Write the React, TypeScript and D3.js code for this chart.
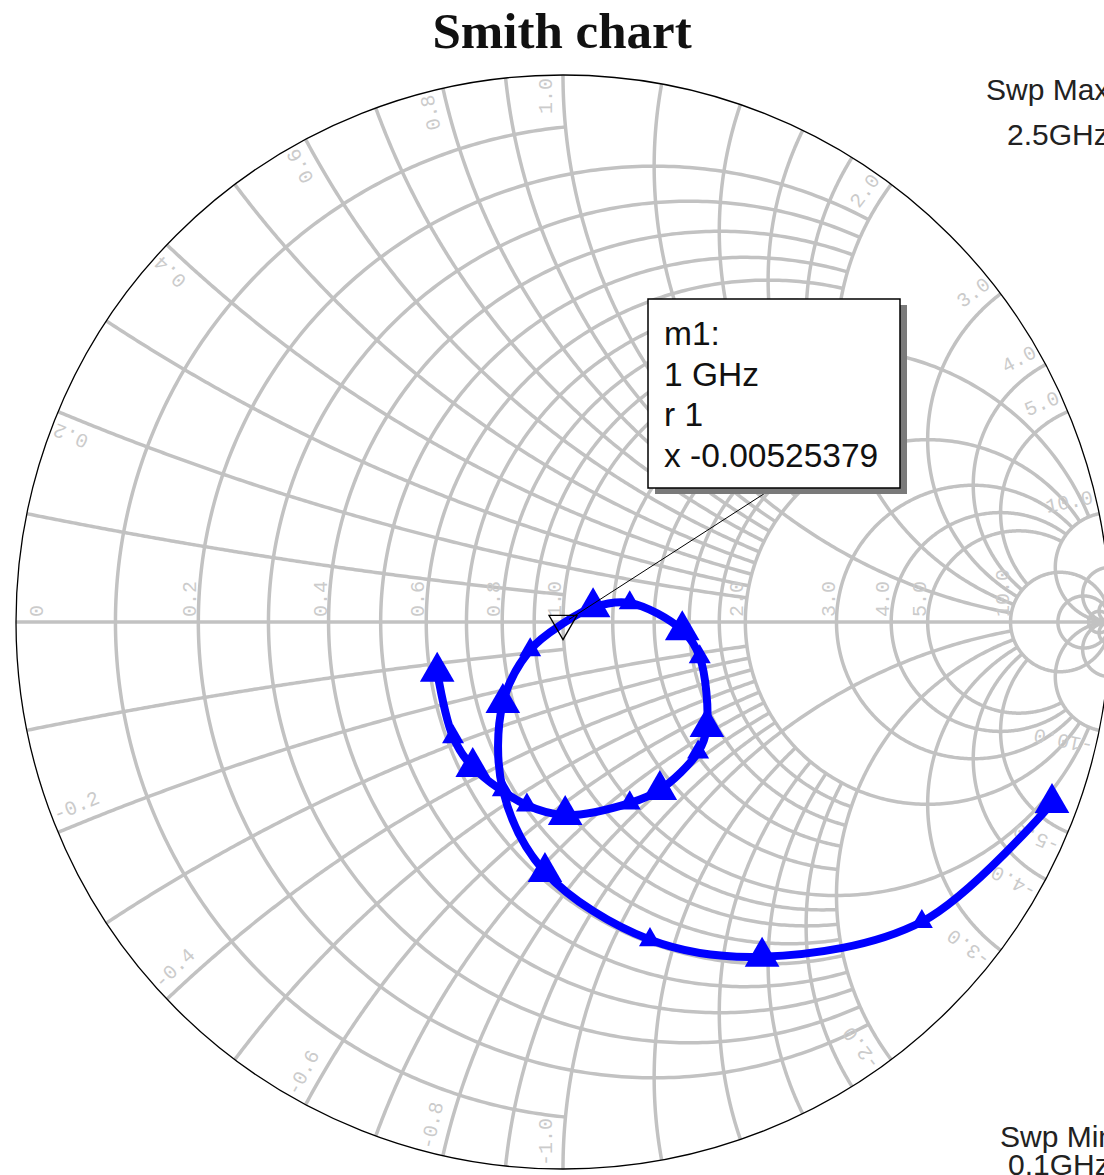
import React from 'react';
import * as d3 from 'd3';

const WIDTH = 1104;
const HEIGHT = 1175;
const CENTER_X = 563;
const CENTER_Y = 622;
const RADIUS = 547;

const titleText = 'Smith chart';

// Grid values shared by resistance circles and reactance arcs
const gridValues = [0.1, 0.2, 0.3, 0.4, 0.5, 0.6, 0.7, 0.8, 0.9, 1, 1.2, 1.4, 1.6, 1.8, 2, 3, 4, 5, 10, 20, 50];
// |x| where each resistance circle stops
const rCircleXLimit = [1, 2, 2, 2, 2, 2, 2, 2, 2, 10, 2, 2, 2, 2, 10, 10, 10, 10, Infinity, Infinity, Infinity];
// r where each reactance arc stops
const xArcRLimit = [1, 2, 2, 2, 2, 2, 2, 2, 2, 10, 2, 2, 2, 2, 10, 10, 10, 10, Infinity, Infinity, Infinity];

const rLabelValues = [0, 0.2, 0.4, 0.6, 0.8, 1, 2, 3, 4, 5, 10];
const xLabelValues = [0.2, 0.4, 0.6, 0.8, 1, 2, 3, 4, 5, 10];

// Swept reflection coefficient
const sweepGHz = [0.10, 0.22, 0.34, 0.46, 0.58, 0.70, 0.82, 0.94, 1.06, 1.18, 1.30, 1.42, 1.54, 1.66, 1.78, 1.90, 2.02, 2.14, 2.26, 2.38, 2.50];
const gammaRe = [0.894, 0.656, 0.364, 0.159, -0.033, -0.110, -0.110, -0.060, 0.055, 0.122, 0.218, 0.250, 0.263, 0.247, 0.177, 0.122, 0.004, -0.066, -0.165, -0.201, -0.230];
const gammaIm = [-0.331, -0.548, -0.612, -0.581, -0.457, -0.307, -0.148, -0.051, 0.027, 0.035, -0.015, -0.064, -0.192, -0.238, -0.307, -0.331, -0.353, -0.335, -0.265, -0.210, -0.091];
const symbolKind = ['L', 'S', 'L', 'S', 'L', 'S', 'L', 'S', 'L', 'S', 'L', 'S', 'L', 'S', 'L', 'S', 'L', 'S', 'L', 'S', 'L'];

// Marker m1
const markerName = 'm1:';
const markerGHz = 1;
const markerR = 1;
const markerX = -0.00525379;

const sweepMaxText = ['Swp Max', '2.5GHz'];
const sweepMinText = ['Swp Min', '0.1GHz'];

const GRID_COLOR = '#c2c2c2';
const LABEL_COLOR = '#cbcbcb';
const TRACE_COLOR = '#0000ff';

type Pt = [number, number];

// normalized impedance -> reflection coefficient
function gamma(r: number, x: number): Pt {
  const den = (r + 1) * (r + 1) + x * x;
  return [(r * r - 1 + x * x) / den, (2 * x) / den];
}

function rCirclePoints(r: number, xMax: number): Pt[] {
  const c = r / (1 + r);
  const rho = 1 / (1 + r);
  let phi0 = 0;
  if (isFinite(xMax)) {
    const g = gamma(r, xMax);
    phi0 = Math.atan2(g[1], g[0] - c);
  }
  const n = 360;
  return d3.range(n + 1).map((i) => {
    const phi = phi0 + ((2 * Math.PI - 2 * phi0) * i) / n;
    return [c + rho * Math.cos(phi), rho * Math.sin(phi)] as Pt;
  });
}

// angle around the arc centre, measured so the inside part runs from below -PI up to -PI/2
function arcAngle(a: number): number {
  return a > -Math.PI / 2 + 1e-9 ? a - 2 * Math.PI : a;
}

function xArcPoints(x: number, rMax: number): Pt[] {
  const cy = 1 / x;
  const rho = 1 / x;
  const g0 = gamma(0, x);
  const a0 = arcAngle(Math.atan2(g0[1] - cy, g0[0] - 1));
  let a1 = -Math.PI / 2;
  if (isFinite(rMax)) {
    const g1 = gamma(rMax, x);
    a1 = arcAngle(Math.atan2(g1[1] - cy, g1[0] - 1));
  }
  const n = 240;
  return d3.range(n + 1).map((i) => {
    const a = a0 + ((a1 - a0) * i) / n;
    return [1 + rho * Math.cos(a), cy + rho * Math.sin(a)] as Pt;
  });
}

export default function App() {
  const sx = d3.scaleLinear().domain([-1, 1]).range([CENTER_X - RADIUS, CENTER_X + RADIUS]);
  const sy = d3.scaleLinear().domain([-1, 1]).range([CENTER_Y + RADIUS, CENTER_Y - RADIUS]);
  const gridLine = d3.line<Pt>().x((d) => sx(d[0])).y((d) => sy(d[1]));

  const gridPaths: string[] = [];
  gridValues.forEach((v, i) => {
    gridPaths.push(gridLine(rCirclePoints(v, rCircleXLimit[i])) as string);
    const arc = xArcPoints(v, xArcRLimit[i]);
    gridPaths.push(gridLine(arc) as string);
    gridPaths.push(gridLine(arc.map((p) => [p[0], -p[1]] as Pt)) as string);
  });

  const rad = sx(1) - sx(0);

  // r labels along the real axis
  const rLabels = rLabelValues.map((v) => {
    const gx = (v - 1) / (v + 1);
    const ax = v === 0 ? sx(gx) + 27 : sx(gx) - 2;
    const ay = sy(0) - 5;
    return { text: v === 0 ? '0' : v.toFixed(1), x: ax, y: ay, rot: -90, anchor: 'start' };
  });

  // x labels just inside the outer circle
  const k = (rad - 3) / rad;
  const off = 11;
  const xLabels: { text: string; x: number; y: number; rot: number; anchor: string }[] = [];
  xLabelValues.forEach((v) => {
    const g = gamma(0, v);
    const th = Math.atan2(g[1], g[0]);
    const deg = (th * 180) / Math.PI;
    const px = sx(Math.cos(th) * k);
    const pyUp = sy(Math.sin(th) * k);
    const pyDn = sy(-Math.sin(th) * k);
    xLabels.push({
      text: v.toFixed(1),
      x: px - off * Math.sin(th),
      y: pyUp - off * Math.cos(th),
      rot: -deg,
      anchor: 'end',
    });
    xLabels.push({
      text: '-' + v.toFixed(1),
      x: px - off * Math.sin(th),
      y: pyDn + off * Math.cos(th),
      rot: deg - 180,
      anchor: 'start',
    });
  });

  // trace including the marked point
  const mGamma = gamma(markerR, markerX);
  const tracePts = sweepGHz
    .map((f, i) => ({ f, re: gammaRe[i], im: gammaIm[i] }))
    .concat([{ f: markerGHz, re: mGamma[0], im: mGamma[1] }])
    .sort((a, b) => a.f - b.f);
  const traceLine = d3
    .line<{ f: number; re: number; im: number }>()
    .x((d) => sx(d.re))
    .y((d) => sy(d.im))
    .curve(d3.curveCatmullRom.alpha(0.5));

  const bigTri = d3.symbol().type(d3.symbolTriangle).size(520)() as string;
  const smallTri = d3.symbol().type(d3.symbolTriangle).size(210)() as string;
  const markerTri = d3.symbol().type(d3.symbolTriangle).size(340)() as string;

  const mx = sx(mGamma[0]);
  const my = sy(mGamma[1]);

  const box = { x: 648, y: 299, w: 252, h: 189 };
  const boxLines = [markerName, `${markerGHz} GHz`, `r ${markerR}`, `x ${markerX}`];

  return (
    <svg
      width={WIDTH}
      height={HEIGHT}
      style={{ position: 'absolute', left: 0, top: 0, background: '#fff' }}
    >
      <rect x={0} y={0} width={WIDTH} height={HEIGHT} fill="#fff" />
      <text
        x={562}
        y={48}
        textAnchor="middle"
        fontFamily="'Liberation Serif', 'Times New Roman', serif"
        fontWeight="bold"
        fontSize={51}
        fill="#111"
      >
        {titleText}
      </text>

      <g fill="none" stroke={GRID_COLOR} strokeWidth={3.5}>
        {gridPaths.map((d, i) => (
          <path key={i} d={d} />
        ))}
        <line x1={sx(-1)} y1={sy(0)} x2={sx(1)} y2={sy(0)} />
      </g>

      <circle cx={sx(0)} cy={sy(0)} r={rad} fill="none" stroke="#000" strokeWidth={1.3} />

      <g fontFamily="'Liberation Mono', 'Courier New', monospace" fontSize={20} fill={LABEL_COLOR}>
        {rLabels.concat(xLabels).map((l, i) => (
          <text
            key={i}
            x={l.x}
            y={l.y}
            textAnchor={l.anchor as any}
            transform={`rotate(${l.rot},${l.x},${l.y})`}
          >
            {l.text}
          </text>
        ))}
      </g>

      <path
        d={traceLine(tracePts) as string}
        fill="none"
        stroke={TRACE_COLOR}
        strokeWidth={8}
        strokeLinejoin="round"
        strokeLinecap="round"
      />
      {sweepGHz.map((f, i) =>
        symbolKind[i] ? (
          <path
            key={f}
            d={symbolKind[i] === 'L' ? bigTri : smallTri}
            transform={`translate(${sx(gammaRe[i])},${sy(gammaIm[i])})`}
            fill={TRACE_COLOR}
          />
        ) : null
      )}

      <path
        d={markerTri}
        transform={`translate(${mx},${my}) rotate(180)`}
        fill="none"
        stroke="#000"
        strokeWidth={1.3}
      />
      <line x1={mx + 6} y1={my - 4} x2={773} y2={box.y + box.h} stroke="#000" strokeWidth={1} />

      <rect x={box.x + 7} y={box.y + 6} width={box.w} height={box.h} fill="#7a7a7a" />
      <rect x={box.x} y={box.y} width={box.w} height={box.h} fill="#fff" stroke="#000" strokeWidth={1.5} />
      <g fontFamily="'Liberation Sans', Arial, sans-serif" fontSize={33.5} fill="#111">
        {boxLines.map((t, i) => (
          <text key={i} x={box.x + 16} y={345 + i * 40.7}>
            {t}
          </text>
        ))}
      </g>

      <g fontFamily="'Liberation Sans', Arial, sans-serif" fontSize={30} fill="#222">
        <text x={986} y={100}>{sweepMaxText[0]}</text>
        <text x={1007} y={145}>{sweepMaxText[1]}</text>
        <text x={1000} y={1147}>{sweepMinText[0]}</text>
        <text x={1008} y={1175}>{sweepMinText[1]}</text>
      </g>
    </svg>
  );
}
